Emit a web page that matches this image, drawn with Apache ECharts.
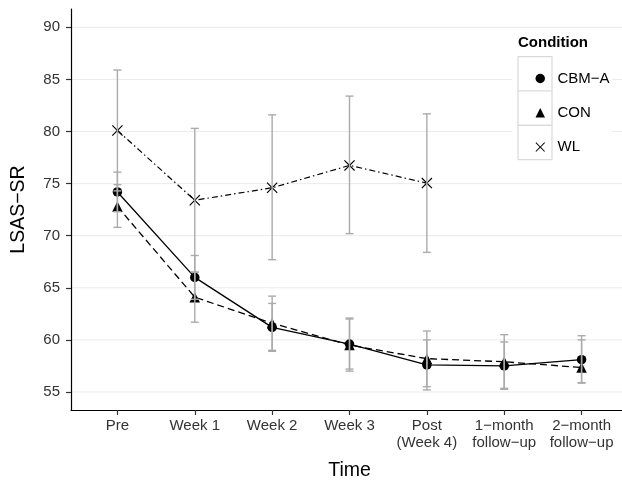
<!DOCTYPE html>
<html>
<head>
<meta charset="utf-8">
<script src="https://cdn.jsdelivr.net/npm/echarts@6/dist/echarts.min.js"></script>
<style>
html,body{margin:0;padding:0;background:#fff;}
#chart{width:622px;height:481px;}
</style>
</head>
<body>
<div id="chart"></div>
<script>
const categories = ['Pre', 'Week 1', 'Week 2', 'Week 3', 'Post\n(Week 4)', '1\u2212month\nfollow\u2212up', '2\u2212month\nfollow\u2212up'];
const yTicks = [55, 60, 65, 70, 75, 80, 85, 90];
const seriesNames = ['CBM\u2212A', 'CON', 'WL'];

const cbmMean = [74.2, 66.0, 61.2, 59.6, 57.6, 57.5, 58.1];
const cbmLow  = [72.3, 63.9, 58.9, 57.2, 55.2, 55.25, 55.9];
const cbmHigh = [76.1, 68.1, 63.5, 62.0, 60.0, 59.8, 60.4];

const conMean = [72.8, 64.1, 61.6, 59.5, 58.2, 57.9, 57.35];
const conLow  = [70.8, 61.7, 59.0, 57.0, 55.5, 55.35, 55.85];
const conHigh = [74.9, 66.5, 64.2, 62.1, 60.85, 60.5, 60.0];

const wlMean = [80.1, 73.4, 74.6, 76.75, 75.05];
const wlLow  = [74.3, 66.5, 67.7, 70.2, 68.4];
const wlHigh = [85.9, 80.3, 81.6, 83.4, 81.7];

const FONT = 'Liberation Sans, Arial, Helvetica, sans-serif';
const xPath = 'path://M0,0.75L0.75,0L5,4.25L9.25,0L10,0.75L5.75,5L10,9.25L9.25,10L5,5.75L0.75,10L0,9.25L4.25,5Z';

function pts(arr) { return arr.map((v, i) => [i, v]); }
function bars(lo, hi) { return lo.map((v, i) => [i, v, hi[i]]); }

const chart = echarts.init(document.getElementById('chart'), null, {renderer: 'canvas'});

function errRender(params, api) {
  const x = api.value(0);
  const p1 = api.coord([x, api.value(1)]);
  const p2 = api.coord([x, api.value(2)]);
  const hw = 4;
  const st = {stroke: '#ababab', lineWidth: 1.4};
  return {
    type: 'group',
    children: [
      {type: 'line', shape: {x1: p1[0], y1: p1[1], x2: p2[0], y2: p2[1]}, style: st},
      {type: 'line', shape: {x1: p1[0] - hw, y1: p1[1], x2: p1[0] + hw, y2: p1[1]}, style: st},
      {type: 'line', shape: {x1: p2[0] - hw, y1: p2[1], x2: p2[0] + hw, y2: p2[1]}, style: st}
    ]
  };
}

function gridRender(params, api) {
  const cs = params.coordSys;
  const y = api.coord([0, api.value(0)])[1];
  return {type: 'line', shape: {x1: cs.x, y1: y, x2: cs.x + cs.width, y2: y}, style: {stroke: '#ebebeb', lineWidth: 1}};
}

const option = {
  animation: false,
  backgroundColor: '#ffffff',
  grid: {left: 71, right: -6, top: 9, bottom: 71, containLabel: false, outerBoundsMode: 'none'},
  xAxis: {
    type: 'value', min: -0.6, max: 6.6,
    name: 'Time', nameLocation: 'middle', nameGap: 51,
    nameTextStyle: {fontFamily: FONT, fontSize: 19.5, color: '#000'},
    axisLine: {show: true, onZero: false, lineStyle: {color: '#000', width: 1.2}},
    axisTick: {show: true, length: 5, customValues: [0, 1, 2, 3, 4, 5, 6], lineStyle: {color: '#333', width: 1.2}},
    axisLabel: {show: true, customValues: [0, 1, 2, 3, 4, 5, 6], margin: 7, fontFamily: FONT, fontSize: 15, color: '#333', lineHeight: 17.5,
      formatter: v => categories[Math.round(v)] || ''},
    splitLine: {show: false}
  },
  yAxis: {
    type: 'value', min: 53.27, max: 91.76,
    name: 'LSAS\u2212SR', nameLocation: 'middle', nameGap: 42, nameRotate: 90,
    nameTextStyle: {fontFamily: FONT, fontSize: 19.5, color: '#000'},
    axisLine: {show: true, onZero: false, lineStyle: {color: '#000', width: 1.2}},
    axisTick: {show: true, length: 5, customValues: yTicks, lineStyle: {color: '#333', width: 1.2}},
    axisLabel: {show: true, customValues: yTicks, margin: 11, fontFamily: FONT, fontSize: 15, color: '#333'},
    splitLine: {show: false}
  },
  legend: {
    show: true, z: 100, orient: 'vertical', left: 530.5, top: 65.5,
    itemWidth: 9.5, itemHeight: 9.5, itemGap: 18.3,
    textStyle: {fontFamily: FONT, fontSize: 15, color: '#000', lineHeight: 16, padding: [0, 0, 0, 7.5]},
    data: [
      {name: seriesNames[0], icon: 'circle'},
      {name: seriesNames[1], icon: 'triangle'},
      {name: seriesNames[2], icon: xPath}
    ],
    selectedMode: false
  },
  graphic: [
    {type: 'rect', z: 1, shape: {x: 512, y: 30, width: 100, height: 134}, style: {fill: '#fff'}},
    {type: 'rect', z: 2, shape: {x: 518, y: 56.7, width: 34, height: 34.3}, style: {fill: '#fff', stroke: '#d9d9d9', lineWidth: 1.2}},
    {type: 'rect', z: 2, shape: {x: 518, y: 91, width: 34, height: 34.3}, style: {fill: '#fff', stroke: '#d9d9d9', lineWidth: 1.2}},
    {type: 'rect', z: 2, shape: {x: 518, y: 125.3, width: 34, height: 34.3}, style: {fill: '#fff', stroke: '#d9d9d9', lineWidth: 1.2}},
    {type: 'text', z: 3, x: 518, y: 43, style: {text: 'Condition', font: 'bold 15px ' + FONT, fill: '#000', verticalAlign: 'middle'}}
  ],
  series: [
    {type: 'custom', name: 'grid', silent: true, z: 0, data: yTicks.map(v => [v]), renderItem: gridRender, encode: {y: 0}, tooltip: {show: false}},
    {type: 'line', name: seriesNames[2], data: pts(wlMean), symbol: xPath, symbolSize: 11, symbolKeepAspect: true,
      itemStyle: {color: '#000'}, lineStyle: {color: '#000', width: 1.2, type: [6, 3, 1.5, 3]}, z: 3},
    {type: 'line', name: seriesNames[1], data: pts(conMean), symbol: 'triangle', symbolSize: 10.5,
      itemStyle: {color: '#000'}, lineStyle: {color: '#000', width: 1.3, type: [7, 4]}, z: 3},
    {type: 'line', name: seriesNames[0], data: pts(cbmMean), symbol: 'circle', symbolSize: 9.5,
      itemStyle: {color: '#000'}, lineStyle: {color: '#000', width: 1.3, type: 'solid'}, z: 3},
    {type: 'custom', name: 'errWL', silent: true, z: 5, data: bars(wlLow, wlHigh), renderItem: errRender, encode: {x: 0, y: [1, 2]}},
    {type: 'custom', name: 'errCON', silent: true, z: 5, data: bars(conLow, conHigh), renderItem: errRender, encode: {x: 0, y: [1, 2]}},
    {type: 'custom', name: 'errCBM', silent: true, z: 5, data: bars(cbmLow, cbmHigh), renderItem: errRender, encode: {x: 0, y: [1, 2]}}
  ]
};
chart.setOption(option);
</script>
</body>
</html>
